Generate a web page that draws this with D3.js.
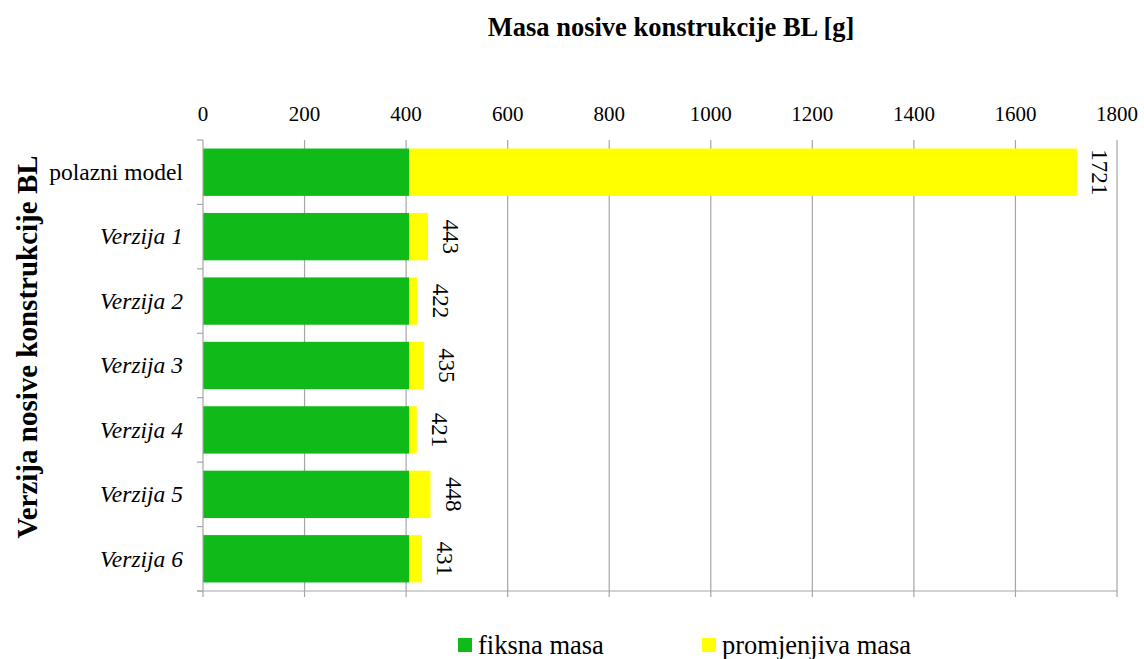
<!DOCTYPE html>
<html>
<head>
<meta charset="utf-8">
<script src="https://cdn.jsdelivr.net/npm/d3@7/dist/d3.min.js"></script>
<style>
  html, body { margin: 0; padding: 0; background: #ffffff; }
  svg { display: block; }
  svg text { font-family: "Liberation Serif", "Times New Roman", serif; fill: #000; }
</style>
</head>
<body>
<svg id="chart" width="1144" height="659"></svg>
<script>
// Category labels (top to bottom) and masses in grams
const categories = ["polazni model", "Verzija 1", "Verzija 2", "Verzija 3", "Verzija 4", "Verzija 5", "Verzija 6"];
const italicCats = [false, true, true, true, true, true, true];
const totalMass = [1721, 443, 422, 435, 421, 448, 431];
const fixedMass = [406, 406, 406, 406, 406, 406, 406];
const variableMass = totalMass.map((t, i) => t - fixedMass[i]);
const xTicks = [0, 200, 400, 600, 800, 1000, 1200, 1400, 1600, 1800];
const seriesNames = ["fiksna masa", "promjenjiva masa"];
const seriesColors = ["#10ba18", "#ffff00"];

const svg = d3.select("#chart");
const plotLeft = 203, plotRight = 1117, plotTop = 140, plotBottom = 591;
const gridColor = "#a6a6a6";

const x = d3.scaleLinear().domain([0, 1800]).range([plotLeft, plotRight]);
const y = d3.scaleBand().domain(categories).range([plotTop, plotBottom]).paddingInner(0.265).paddingOuter(0.1325);

// Vertical gridlines, extending below the plot as tick marks
svg.append("g").selectAll("line").data(xTicks.slice(1)).join("line")
  .attr("x1", d => x(d)).attr("x2", d => x(d))
  .attr("y1", plotTop).attr("y2", plotBottom + 6)
  .attr("stroke", gridColor).attr("stroke-width", 1.2);

// Bottom horizontal line
svg.append("line")
  .attr("x1", plotLeft - 6).attr("x2", plotRight)
  .attr("y1", plotBottom).attr("y2", plotBottom)
  .attr("stroke", gridColor).attr("stroke-width", 1.2);

// Stacked bars
const rows = categories.map((c, i) => ({ c, f: fixedMass[i], v: variableMass[i], t: totalMass[i] }));
const bars = svg.append("g");
bars.selectAll("rect.fixed").data(rows).join("rect")
  .attr("class", "fixed")
  .attr("x", x(0)).attr("y", d => y(d.c))
  .attr("width", d => x(d.f) - x(0)).attr("height", y.bandwidth())
  .attr("fill", seriesColors[0]);
bars.selectAll("rect.var").data(rows).join("rect")
  .attr("class", "var")
  .attr("x", d => x(d.f)).attr("y", d => y(d.c))
  .attr("width", d => x(d.f + d.v) - x(d.f)).attr("height", y.bandwidth())
  .attr("fill", seriesColors[1]);

// Left category axis with ticks between categories
svg.append("line")
  .attr("x1", plotLeft).attr("x2", plotLeft).attr("y1", plotTop).attr("y2", plotBottom + 6)
  .attr("stroke", gridColor).attr("stroke-width", 1.2);
const bounds = d3.range(categories.length + 1).map(i => plotTop + i * (plotBottom - plotTop) / categories.length);
svg.append("g").selectAll("line").data(bounds).join("line")
  .attr("x1", plotLeft - 6).attr("x2", plotLeft)
  .attr("y1", d => d).attr("y2", d => d)
  .attr("stroke", gridColor).attr("stroke-width", 1.2);

// Category labels
svg.append("g").selectAll("text").data(categories).join("text")
  .attr("x", 183)
  .attr("y", d => y(d) + y.bandwidth() / 2)
  .attr("dy", "0.33em")
  .attr("text-anchor", "end")
  .attr("font-size", 23.5)
  .attr("font-style", (d, i) => italicCats[i] ? "italic" : "normal")
  .text(d => d);

// Top value axis labels
svg.append("g").selectAll("text").data(xTicks).join("text")
  .attr("x", d => x(d)).attr("y", 121)
  .attr("text-anchor", "middle")
  .attr("font-size", 21)
  .text(d => d);

// Total value labels, rotated
svg.append("g").selectAll("text").data(rows).join("text")
  .attr("transform", d => `translate(${x(d.t) + 23},${y(d.c) + y.bandwidth() / 2}) rotate(90)`)
  .attr("text-anchor", "middle")
  .attr("dy", "0.33em")
  .attr("font-size", 23)
  .text(d => d.t);

// Chart title
svg.append("text")
  .attr("x", 671).attr("y", 36)
  .attr("text-anchor", "middle")
  .attr("font-size", 26.5).attr("font-weight", "bold")
  .text("Masa nosive konstrukcije BL [g]");

// Vertical axis title
svg.append("text")
  .attr("transform", "translate(37,347) rotate(-90)")
  .attr("text-anchor", "middle")
  .attr("font-size", 29).attr("font-weight", "bold")
  .text("Verzija nosive konstrukcije BL");

// Legend
const legendX = [458, 702];
const legend = svg.append("g").selectAll("g").data(seriesNames).join("g")
  .attr("transform", (d, i) => `translate(${legendX[i]},0)`);
legend.append("rect")
  .attr("x", 0).attr("y", 638).attr("width", 14).attr("height", 14)
  .attr("fill", (d, i) => seriesColors[i]);
legend.append("text")
  .attr("x", 20).attr("y", 654)
  .attr("font-size", 26.5)
  .text(d => d);
</script>
</body>
</html>
